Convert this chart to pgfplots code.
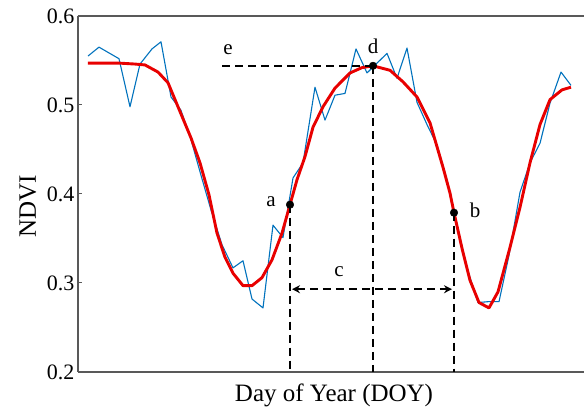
\documentclass[border=0pt]{standalone}
\usepackage{pgfplots}
\pgfplotsset{compat=1.18}
\usepackage{fontspec}
\setmainfont{Liberation Serif}
\usetikzlibrary{arrows.meta}
\definecolor{mblue}{RGB}{0,114,189}
\definecolor{mred}{RGB}{232,0,0}
\begin{document}
\begin{tikzpicture}
\begin{axis}[
  scale only axis, width=506pt, height=356pt,
  xmin=78, xmax=584, ymin=0.2, ymax=0.6,
  axis x line*=box, axis y line*=left,
  axis line style={black!65, line width=1.2pt},
  xtick=\empty,
  ytick={0.2,0.3,0.4,0.5,0.6},
  yticklabels={0.2,0.3,0.4,0.5,0.6},
  tick align=inside, major tick length=4pt,
  tick style={black!65, line width=1pt},
  yticklabel style={font=\fontsize{22}{24}\selectfont},
  /pgf/number format/assume math mode=true,
  xlabel={Day of Year (DOY)},
  ylabel={NDVI},
  xlabel style={font=\fontsize{25}{28}\selectfont, anchor=center, at={(axis description cs:0.506,-0.065)}},
  ylabel style={font=\fontsize{25}{28}\selectfont, anchor=center, rotate=0, at={(axis description cs:-0.099,0.466)}},
  clip=false,
]
% raw NDVI
\addplot[mblue, line width=1.1pt, line join=round] coordinates {
(88,0.555)(99,0.565)(119,0.552)(130,0.498)(140,0.546)(152,0.563)(161,0.571)(171,0.509)
(181,0.494)(191,0.461)(201,0.421)(211,0.382)(222,0.343)(233,0.317)(243,0.325)(252,0.282)
(263,0.272)(273,0.365)(283,0.351)(293,0.418)(303,0.435)(315,0.520)(325,0.483)(335,0.511)
(345,0.513)(356,0.563)(367,0.536)(377,0.547)(387,0.558)(397,0.530)(407,0.564)(417,0.503)
(427,0.478)(437,0.455)(447,0.416)(457,0.365)(467,0.317)(478,0.278)(488,0.279)(499,0.279)
(509,0.331)(520,0.402)(530,0.435)(540,0.457)(550,0.502)(561,0.537)(571,0.522)
};
% fitted curve
\addplot[mred, line width=2.9pt, line join=round] coordinates {
(88,0.547)(100,0.547)(120,0.547)(135,0.546)(145,0.545)(158,0.537)(168,0.525)(178,0.498)
(191,0.463)(200,0.435)(209,0.399)(217,0.356)(225,0.329)(233,0.311)(243,0.297)(252,0.297)
(262,0.306)(272,0.326)(282,0.356)(290,0.388)(297,0.416)(305,0.442)(313,0.475)(323,0.498)
(335,0.519)(350,0.536)(362,0.542)(373,0.544)(390,0.539)(403,0.526)(417,0.509)(430,0.480)
(443,0.430)(450,0.401)(454,0.379)(462,0.339)(470,0.303)(479,0.278)(489,0.272)(498,0.290)
(510,0.340)(520,0.385)(530,0.435)(540,0.478)(550,0.506)(562,0.517)(571,0.520)
};
% dashed guides
\addplot[black, line width=2pt, dash pattern=on 8pt off 5pt] coordinates {(222,0.544)(373,0.544)};
\addplot[black, line width=2pt, dash pattern=on 8pt off 5pt] coordinates {(373,0.544)(373,0.2)};
\addplot[black, line width=2pt, dash pattern=on 8pt off 5pt] coordinates {(290,0.388)(290,0.2)};
\addplot[black, line width=2pt, dash pattern=on 8pt off 5pt] coordinates {(454,0.379)(454,0.2)};
\addplot[black, line width=2pt, dash pattern=on 8pt off 5pt, {Stealth[length=8pt,width=8pt]}-{Stealth[length=8pt,width=8pt]}] coordinates {(292,0.293)(452,0.293)};
% key points
\addplot[only marks, mark=*, mark size=3.8pt, black] coordinates {(290,0.388)(454,0.379)(373,0.544)};
% labels
\node[font=\fontsize{21}{24}\selectfont] at (axis cs:228,0.562) {e};
\node[font=\fontsize{21}{24}\selectfont] at (axis cs:373,0.566) {d};
\node[font=\fontsize{21}{24}\selectfont] at (axis cs:271,0.391) {a};
\node[font=\fontsize{21}{24}\selectfont] at (axis cs:475,0.382) {b};
\node[font=\fontsize{21}{24}\selectfont] at (axis cs:339,0.313) {c};
\end{axis}
\pgfresetboundingbox
\path (-78pt,-39pt) rectangle (506pt,372pt);
\end{tikzpicture}
\end{document}
